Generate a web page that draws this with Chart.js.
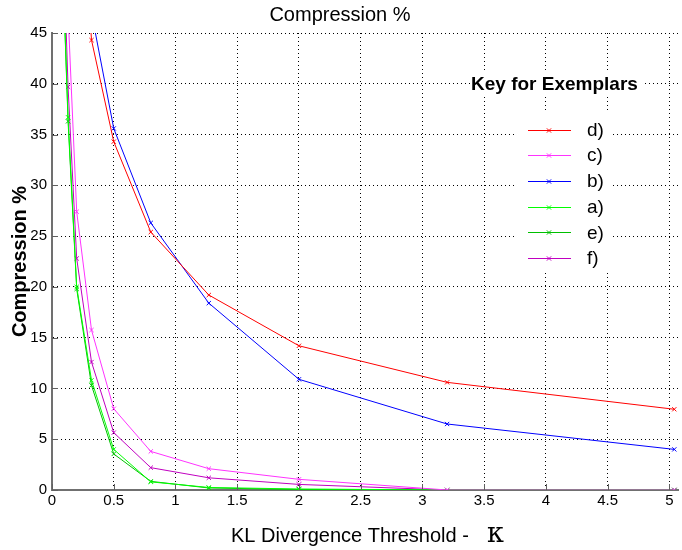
<!DOCTYPE html>
<html>
<head>
<meta charset="utf-8">
<script src="https://cdn.jsdelivr.net/npm/chart.js@4/dist/chart.umd.min.js"></script>
<style>
  html, body { margin: 0; padding: 0; background: #fff; }
  canvas { display: block; }
</style>
</head>
<body>
<canvas id="chart" width="682" height="550"></canvas>
<script>
// KL divergence thresholds (x) and compression % per exemplar
const thresholds = [0.08, 0.13, 0.2, 0.32, 0.5, 0.8, 1.27, 2, 3.2, 5.04];
const compD = [null, null, 66, 44.3, 34.3, 25.4, 19.2, 14.2, 10.6, 7.95];
const compC = [65, 47, 27.4, 15.75, 8.0, 3.8, 2.1, 1.05, 0, 0];
const compB = [null, null, 70, 47, 35.6, 26.3, 18.4, 10.9, 6.5, 4.0];
const compA = [54, 36.7, 20.0, 10.8, 4.0, 0.8, 0.25, 0.1, 0, 0];
const compE = [54, 36.3, 19.8, 10.3, 3.55, 0.85, 0.2, 0.05, 0, 0];
const compF = [58, 39.7, 22.8, 12.6, 5.65, 2.2, 1.2, 0.55, 0, 0];

const keyLabels = ['d)', 'c)', 'b)', 'a)', 'e)', 'f)'];
const keyColors = ['#ff0000', '#ff33ff', '#0000ff', '#00ff00', '#00c000', '#c000c0'];
const allSeries = [compD, compC, compB, compA, compE, compF];

const xTicks = [0, 0.5, 1, 1.5, 2, 2.5, 3, 3.5, 4, 4.5, 5];
const yTicks = [0, 5, 10, 15, 20, 25, 30, 35, 40, 45];

const FONT = '"Liberation Sans", Arial, sans-serif';
const TICKFONT = '"Liberation Sans Narrow", "Liberation Sans", Arial, sans-serif';

const datasets = allSeries.map((vals, i) => ({
  label: keyLabels[i],
  data: thresholds.map((x, j) => ({ x: x, y: vals[j] })),
  borderColor: keyColors[i],
  backgroundColor: keyColors[i],
  borderWidth: 1,
  pointStyle: 'crossRot',
  pointRadius: 3,
  pointBorderWidth: 1,
  pointHoverRadius: 3,
  tension: 0,
  fill: false
}));

// inward tick marks, MATLAB style
const innerTicks = {
  id: 'innerTicks',
  afterDatasetsDraw(chart) {
    const { ctx, chartArea: a, scales: { x, y } } = chart;
    ctx.save();
    ctx.strokeStyle = '#606060';
    ctx.lineWidth = 1;
    ctx.beginPath();
    xTicks.forEach(v => {
      const px = Math.round(x.getPixelForValue(v)) + 0.5;
      ctx.moveTo(px, a.bottom);
      ctx.lineTo(px, a.bottom - 6);
    });
    yTicks.forEach(v => {
      const py = Math.round(y.getPixelForValue(v)) + 0.5;
      ctx.moveTo(a.left, py);
      ctx.lineTo(a.left + 6, py);
    });
    ctx.stroke();
    ctx.restore();
  }
};

// x axis label with the larger kappa symbol
const xLabel = {
  id: 'xLabel',
  afterDraw(chart) {
    const ctx = chart.ctx;
    ctx.save();
    ctx.fillStyle = '#000';
    ctx.textBaseline = 'alphabetic';
    ctx.textAlign = 'left';
    ctx.font = '20px ' + FONT;
    ctx.fillText('KL Divergence Threshold -', 231, 542);
    ctx.font = '27px "DejaVu Serif", serif';
    ctx.fillText('\u03BA', 487, 542);
    ctx.restore();
  }
};

// "Key for Exemplars" box inside the plot
const keyBox = {
  id: 'keyBox',
  afterDatasetsDraw(chart) {
    const ctx = chart.ctx;
    ctx.save();
    ctx.fillStyle = '#fff';
    ctx.fillRect(470, 72, 172, 24);
    ctx.fillRect(517, 112, 96, 160);
    ctx.fillStyle = '#000';
    ctx.font = 'bold 19px ' + FONT;
    ctx.textBaseline = 'middle';
    ctx.textAlign = 'left';
    ctx.fillText('Key for Exemplars', 471, 85);
    ctx.font = '19px ' + FONT;
    keyLabels.forEach((lab, i) => {
      const ry = 129.5 + i * 25.7;
      ctx.strokeStyle = keyColors[i];
      ctx.lineWidth = 1;
      ctx.beginPath();
      ctx.moveTo(528, Math.round(ry) + 0.5);
      ctx.lineTo(571, Math.round(ry) + 0.5);
      ctx.stroke();
      Chart.helpers.drawPoint(ctx, { pointStyle: 'crossRot', radius: 3, borderWidth: 1 }, 549, Math.round(ry) + 0.5);
      ctx.fillStyle = '#000';
      ctx.fillText(lab, 587, ry + 1);
    });
    ctx.restore();
  }
};

new Chart(document.getElementById('chart'), {
  type: 'line',
  data: { datasets: datasets },
  plugins: [innerTicks, keyBox, xLabel],
  options: {
    responsive: false,
    animation: false,
    events: [],
    layout: { padding: { left: 0, right: 2, top: 0, bottom: 0 } },
    plugins: {
      legend: { display: false },
      tooltip: { enabled: false },
      title: {
        display: true,
        text: 'Compression %',
        color: '#000',
        font: { family: FONT, size: 20, weight: 'normal' },
        padding: { top: 3, bottom: 6 }
      }
    },
    scales: {
      x: {
        type: 'linear',
        min: 0,
        max: 5.07,
        afterBuildTicks: s => { s.ticks = xTicks.map(v => ({ value: v })); },
        afterFit: s => { s.height = 60; },
        ticks: {
          color: '#000', padding: 2, font: { family: TICKFONT, size: 15 },
          callback: v => String(v)
        },
        grid: { color: '#000', lineWidth: 1, drawTicks: false },
        border: { display: true, color: '#707070', width: 2, dash: [1, 3] },
        title: { display: false }
      },
      y: {
        type: 'linear',
        min: 0,
        max: 45,
        afterBuildTicks: s => { s.ticks = yTicks.map(v => ({ value: v })); },
        afterFit: s => { s.width = 52; },
        ticks: {
          color: '#000', padding: 5, font: { family: TICKFONT, size: 15 },
          callback: v => String(v)
        },
        grid: { color: '#000', lineWidth: 1, drawTicks: false },
        border: { display: true, color: '#707070', width: 2, dash: [1, 3] },
        title: {
          display: true,
          text: 'Compression %',
          color: '#000',
          font: { family: FONT, size: 20, weight: 'bold' },
          padding: { top: 8, bottom: 0 }
        }
      }
    }
  }
});
</script>
</body>
</html>
